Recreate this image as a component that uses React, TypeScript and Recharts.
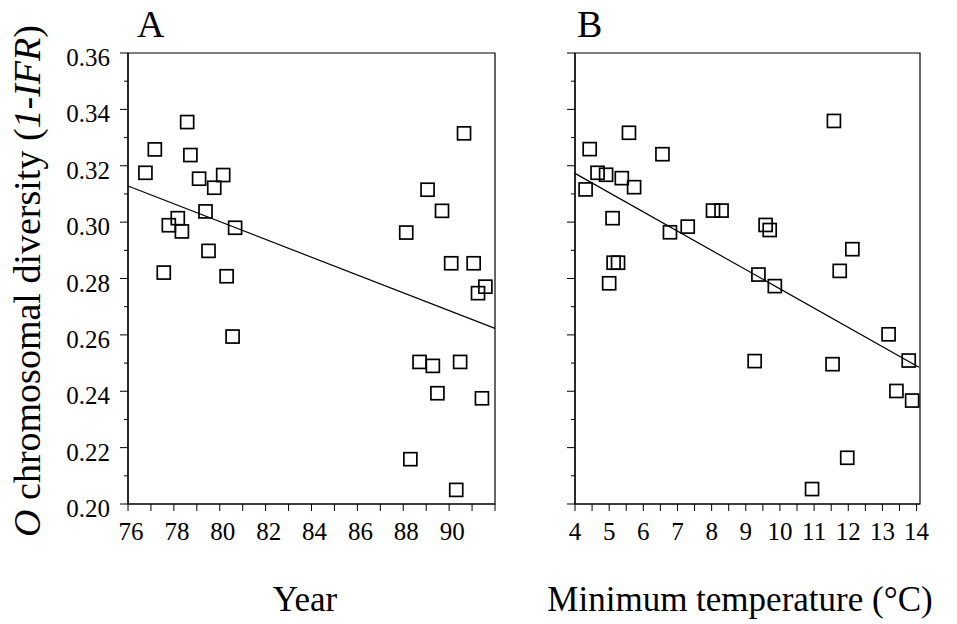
import React from 'react';
import { ScatterChart, Scatter, XAxis, YAxis, ReferenceLine, ReferenceArea } from 'recharts';

// Panel A: diversity vs year
const yearA = [76.76, 77.17, 78.58, 78.72, 79.1, 80.15, 79.76, 79.38, 78.17, 77.78, 78.35, 80.67, 79.51, 77.56, 80.3, 80.56,
  90.65, 89.06, 89.69, 88.13, 90.09, 91.07, 91.58, 91.26, 88.71, 89.29, 90.48, 89.49, 91.43, 88.31, 90.31];
const diversityA = [0.3175, 0.3258, 0.3355, 0.3238, 0.3154, 0.3167, 0.3122, 0.3038, 0.3014, 0.2989, 0.2967, 0.298, 0.2898, 0.2821, 0.2808, 0.2594,
  0.3315, 0.3115, 0.304, 0.2963, 0.2854, 0.2854, 0.2771, 0.2748, 0.2504, 0.249, 0.2504, 0.2393, 0.2375, 0.2159, 0.205];

// Panel B: diversity vs minimum temperature
const tempB = [11.58, 5.58, 4.43, 6.56, 4.66, 4.91, 5.37, 5.73, 4.31, 8.04, 8.29, 5.1, 9.58, 9.7, 7.3, 6.78, 12.12,
  5.13, 5.26, 11.75, 5.0, 9.37, 9.85, 13.18, 13.77, 9.26, 11.54, 13.41, 13.87, 11.97, 10.94];
const diversityB = [0.3359, 0.3317, 0.3259, 0.3241, 0.3175, 0.3168, 0.3156, 0.3124, 0.3116, 0.3041, 0.3041, 0.3014, 0.299, 0.2972, 0.2984, 0.2964, 0.2904,
  0.2856, 0.2856, 0.2827, 0.2783, 0.2814, 0.2773, 0.2602, 0.2509, 0.2507, 0.2496, 0.2401, 0.2367, 0.2164, 0.2053];

// Regression lines (end points)
const fitA = [{ x: 76, y: 0.3128 }, { x: 92, y: 0.2623 }];
const fitB = [{ x: 4, y: 0.3173 }, { x: 14.07, y: 0.2485 }];

// Ticks
const yTicks = [0.2, 0.21, 0.22, 0.23, 0.24, 0.25, 0.26, 0.27, 0.28, 0.29, 0.3, 0.31, 0.32, 0.33, 0.34, 0.35, 0.36];
const yearTicks = [76, 77, 78, 79, 80, 81, 82, 83, 84, 85, 86, 87, 88, 89, 90, 91, 92];
const yearLabels = [76, 78, 80, 82, 84, 86, 88, 90];
const tempTicks = [4, 4.5, 5, 5.5, 6, 6.5, 7, 7.5, 8, 8.5, 9, 9.5, 10, 10.5, 11, 11.5, 12, 12.5, 13, 13.5, 14];
const tempLabels = [4, 5, 6, 7, 8, 9, 10, 11, 12, 13, 14];

const dataA = yearA.map((x, i) => ({ x, y: diversityA[i] }));
const dataB = tempB.map((x, i) => ({ x, y: diversityB[i] }));

const FONT = 'Liberation Serif, DejaVu Serif, serif';
const txt = (size: number): React.CSSProperties => ({ fontFamily: FONT, fontSize: size });

const Square = (props: any) => {
  const { cx, cy } = props;
  if (cx == null || cy == null) return null;
  return <rect x={cx - 6.5} y={cy - 6.5} width={13} height={13} fill="none" stroke="#000" strokeWidth={1.7} />;
};

const makeYTick = (showLabel: boolean) => (props: any) => {
  const { x, y, payload } = props;
  const v = payload.value as number;
  const major = Math.round(v * 100) % 2 === 0;
  return (
    <g>
      <line x1={x - (major ? 8 : 4)} x2={x} y1={y} y2={y} stroke="#000" strokeWidth={1} />
      {showLabel && major ? (
        <text x={x - 18} y={y + 13} textAnchor="end" style={txt(25)} fill="#000">
          {v.toFixed(2)}
        </text>
      ) : null}
    </g>
  );
};

const makeXTick = (labels: number[], dx: number) => (props: any) => {
  const { x, y, payload } = props;
  const v = payload.value as number;
  const show = labels.includes(v);
  return (
    <g>
      <line x1={x} x2={x} y1={y} y2={y + 7} stroke="#000" strokeWidth={1} />
      {show ? (
        <text x={x + dx} y={y + 36} textAnchor="middle" style={txt(25)} fill="#000">
          {v}
        </text>
      ) : null}
    </g>
  );
};

export default function App() {
  return (
    <div style={{ position: 'absolute', left: 0, top: 0, width: 957, height: 624, background: '#fff' }}>
      <div style={{ position: 'absolute', left: 0, top: 0 }}>
        <ScatterChart width={520} height={624} margin={{ top: 53, right: 25, bottom: 80, left: 0 }}>
          <XAxis
            type="number"
            dataKey="x"
            domain={[76, 92]}
            ticks={yearTicks}
            interval={0}
            allowDataOverflow
            height={40}
            tickSize={0}
            tickMargin={0}
            tickLine={false}
            axisLine={{ stroke: '#000', strokeWidth: 1.2 }}
            tick={makeXTick(yearLabels, 3)}
          />
          <YAxis
            type="number"
            dataKey="y"
            domain={[0.2, 0.36]}
            ticks={yTicks}
            interval={0}
            allowDataOverflow
            width={128}
            tickSize={0}
            tickMargin={0}
            tickLine={false}
            axisLine={{ stroke: '#000', strokeWidth: 1.2 }}
            tick={makeYTick(true)}
          />
          <ReferenceArea x1={76} x2={92} y1={0.2} y2={0.36} fill="none" stroke="#000" strokeWidth={1.2} />
          <ReferenceLine segment={fitA} stroke="#000" strokeWidth={1.2} />
          <Scatter data={dataA} shape={Square} isAnimationActive={false} />
        </ScatterChart>
      </div>
      <div style={{ position: 'absolute', left: 520, top: 0 }}>
        <ScatterChart width={437} height={624} margin={{ top: 53, right: 37, bottom: 80, left: 0 }}>
          <XAxis
            type="number"
            dataKey="x"
            domain={[4, 14.1]}
            ticks={tempTicks}
            interval={0}
            allowDataOverflow
            height={40}
            tickSize={0}
            tickMargin={0}
            tickLine={false}
            axisLine={{ stroke: '#000', strokeWidth: 1.2 }}
            tick={makeXTick(tempLabels, 0)}
          />
          <YAxis
            type="number"
            dataKey="y"
            domain={[0.2, 0.36]}
            ticks={yTicks}
            interval={0}
            allowDataOverflow
            width={55}
            tickSize={0}
            tickMargin={0}
            tickLine={false}
            axisLine={{ stroke: '#000', strokeWidth: 1.2 }}
            tick={makeYTick(false)}
          />
          <ReferenceArea x1={4} x2={14.1} y1={0.2} y2={0.36} fill="none" stroke="#000" strokeWidth={1.2} />
          <ReferenceLine segment={fitB} stroke="#000" strokeWidth={1.2} />
          <Scatter data={dataB} shape={Square} isAnimationActive={false} />
        </ScatterChart>
      </div>
      <svg width={957} height={624} style={{ position: 'absolute', left: 0, top: 0, pointerEvents: 'none' }}>
        <text x={137} y={37} style={txt(38)} fill="#000">A</text>
        <text x={577} y={37} style={txt(38)} fill="#000">B</text>
        <text x={305} y={611} textAnchor="middle" style={txt(35)} fill="#000">Year</text>
        <text x={740} y={611} textAnchor="middle" style={txt(35)} fill="#000">Minimum temperature (°C)</text>
        <text transform="translate(40, 281) rotate(-90)" textAnchor="middle" style={txt(38)} fill="#000">
          <tspan fontStyle="italic">O</tspan> chromosomal diversity (<tspan fontStyle="italic">1-IFR</tspan>)
        </text>
      </svg>
    </div>
  );
}
